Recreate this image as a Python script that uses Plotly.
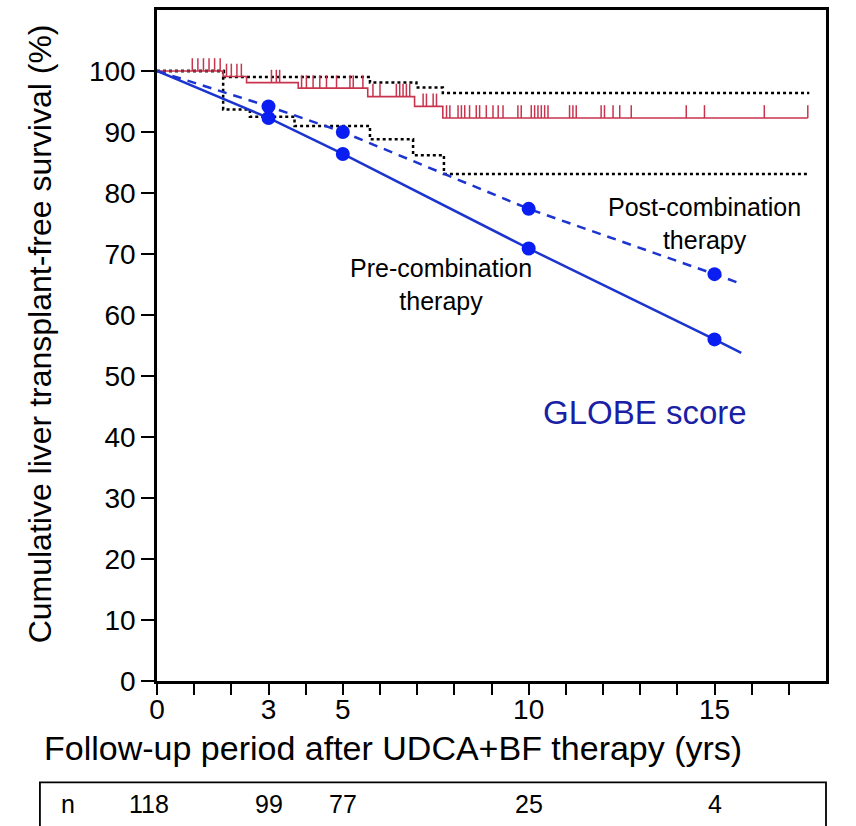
import numpy as np
import plotly.graph_objects as go

# Kaplan-Meier estimate (observed), step change times and survival levels (%)
km_times = [0, 1.78, 2.41, 3.80, 5.67, 6.93, 7.69, 17.51]
km_surv = [100, 99.1, 98.1, 97.2, 95.8, 94.2, 92.3, 92.3]

# censored observations (years)
censor_times = [0.95, 1.10, 1.25, 1.40, 1.55, 1.70,
                1.87, 2.00, 2.15, 2.27,
                3.08, 3.21, 3.30,
                3.89, 4.02, 4.20, 4.38, 4.56, 4.83, 5.19, 5.28, 5.54,
                5.81, 6.00, 6.44, 6.53, 6.62, 6.71, 6.80,
                7.16, 7.25, 7.43, 7.52,
                7.79, 7.88, 8.10, 8.19, 8.28, 8.41, 8.59, 8.68, 8.86, 9.04,
                9.18, 9.31, 9.71, 9.80, 10.07, 10.16, 10.25, 10.34, 10.43,
                10.52, 11.10, 11.19, 11.28, 11.95, 12.04, 12.27, 12.45, 12.76,
                14.24, 14.73, 16.34, 17.51]

# confidence bounds of the KM estimate
upper_times = [0, 1.80, 5.73, 6.98, 7.69, 17.55]
upper_surv = [100, 99.0, 98.1, 97.3, 96.4, 96.4]
lower_times = [0, 1.78, 2.50, 3.70, 5.73, 6.89, 7.72, 17.55]
lower_surv = [100, 93.7, 92.5, 91.0, 88.8, 86.2, 83.1, 83.1]

# GLOBE score predicted survival
globe_years = [3, 5, 10, 15]
pre_globe = [92.3, 86.4, 70.9, 56.0]
post_globe = [94.2, 90.0, 77.4, 66.7]
line_start, line_end = 0, 15.72
pre_end, post_end = 53.8, 65.1

# numbers at risk
risk_years = [0, 3, 5, 10, 15]
risk_n = [118, 99, 77, 25, 4]

x_tick_labels = {0: "0", 3: "3", 5: "5", 10: "10", 15: "15"}

FONT = "Arial, Liberation Sans, sans-serif"
RED = "#c8344e"
BLUE_LINE = "#1c34d0"
BLUE_DOT = "#0a1ef2"

fig = go.Figure()

# confidence bounds (dotted steps)
for t, s in ((upper_times, upper_surv), (lower_times, lower_surv)):
    fig.add_trace(go.Scatter(x=t, y=s, mode="lines", line_shape="hv",
                             line=dict(color="black", width=2.5, dash="dot"),
                             hoverinfo="skip", showlegend=False))

# KM curve
fig.add_trace(go.Scatter(x=km_times, y=km_surv, mode="lines", line_shape="hv",
                         line=dict(color=RED, width=1.6),
                         showlegend=False))

# censor ticks sit on the step curve and point upward
idx = np.searchsorted(km_times, censor_times, side="right") - 1
censor_levels = np.asarray(km_surv)[idx]
fig.add_trace(go.Scatter(x=censor_times, y=censor_levels, mode="markers",
                         marker=dict(size=1, color=RED, opacity=0),
                         error_y=dict(type="constant", symmetric=False,
                                      value=2.1, valueminus=0,
                                      color=RED, thickness=1.5, width=0),
                         showlegend=False))

# GLOBE score lines
pre_x = [line_start] + globe_years + [line_end]
fig.add_trace(go.Scatter(x=pre_x, y=[100] + pre_globe + [pre_end], mode="lines",
                         line=dict(color=BLUE_LINE, width=2.5),
                         showlegend=False))
fig.add_trace(go.Scatter(x=pre_x, y=[100] + post_globe + [post_end], mode="lines",
                         line=dict(color=BLUE_LINE, width=2.5, dash="9px,7px"),
                         showlegend=False))
fig.add_trace(go.Scatter(x=globe_years + globe_years, y=pre_globe + post_globe,
                         mode="markers",
                         marker=dict(size=14, color=BLUE_DOT),
                         showlegend=False))

tick_vals = list(range(0, 18))
tick_text = [x_tick_labels.get(v, "") for v in tick_vals]

fig.update_xaxes(range=[0, 18], tickvals=tick_vals, ticktext=tick_text,
                 ticks="outside", ticklen=11, tickwidth=2.2, tickcolor="black",
                 ticklabelstandoff=-9,
                 showline=True, linecolor="black", linewidth=2.5, mirror=True,
                 showgrid=False, zeroline=False,
                 tickfont=dict(family=FONT, size=28, color="black"))
fig.update_yaxes(range=[0, 110], tickvals=list(range(0, 101, 10)),
                 ticks="outside", ticklen=13, tickwidth=2.2, tickcolor="black",
                 showline=True, linecolor="black", linewidth=2.5, mirror=True,
                 showgrid=False, zeroline=False,
                 tickfont=dict(family=FONT, size=28, color="black"))

annotations = [
    dict(text="Cumulative liver transplant-free survival (%)", textangle=-90,
         xref="paper", yref="paper", x=-0.175, y=0.518,
         xanchor="center", yanchor="middle",
         showarrow=False, font=dict(family=FONT, size=32, color="black")),
    dict(text="Follow-up period after UDCA+BF therapy (yrs)",
         xref="paper", yref="paper", x=-0.172, y=-0.0994,
         xanchor="left", yanchor="middle",
         showarrow=False, font=dict(family=FONT, size=34, color="black")),
    dict(text="Post-combination<br>therapy", xref="x", yref="y",
         x=14.72, y=75.0, showarrow=False,
         xanchor="center", yanchor="middle",
         font=dict(family=FONT, size=25, color="black")),
    dict(text="Pre-combination<br>therapy", xref="x", yref="y",
         x=7.64, y=65.0, showarrow=False,
         xanchor="center", yanchor="middle",
         font=dict(family=FONT, size=25, color="black")),
    dict(text="GLOBE score", xref="x", yref="y",
         x=13.12, y=44.0, showarrow=False,
         xanchor="center", yanchor="middle",
         font=dict(family=FONT, size=33, color="#1a1fa6")),
    dict(text="n", xref="paper", yref="paper", x=-0.133, y=-0.184,
         xanchor="center", yanchor="middle",
         showarrow=False, font=dict(family=FONT, size=25, color="black")),
]
for yr, n in zip(risk_years, risk_n):
    annotations.append(dict(text=str(n), xref="x", yref="paper", x=yr,
                            xshift=-8 if yr == 0 else 0, y=-0.184,
                            xanchor="center", yanchor="middle",
                            showarrow=False,
                            font=dict(family=FONT, size=25, color="black")))

fig.update_layout(
    width=856, height=826,
    margin=dict(l=157, r=30, t=7, b=145),
    plot_bgcolor="white", paper_bgcolor="white",
    annotations=annotations,
    shapes=[dict(type="rect", xref="paper", yref="paper",
                 x0=-0.175, x1=1.0, y0=-0.32, y1=-0.151,
                 line=dict(color="black", width=1.8))],
)

fig.write_html("out.html")
